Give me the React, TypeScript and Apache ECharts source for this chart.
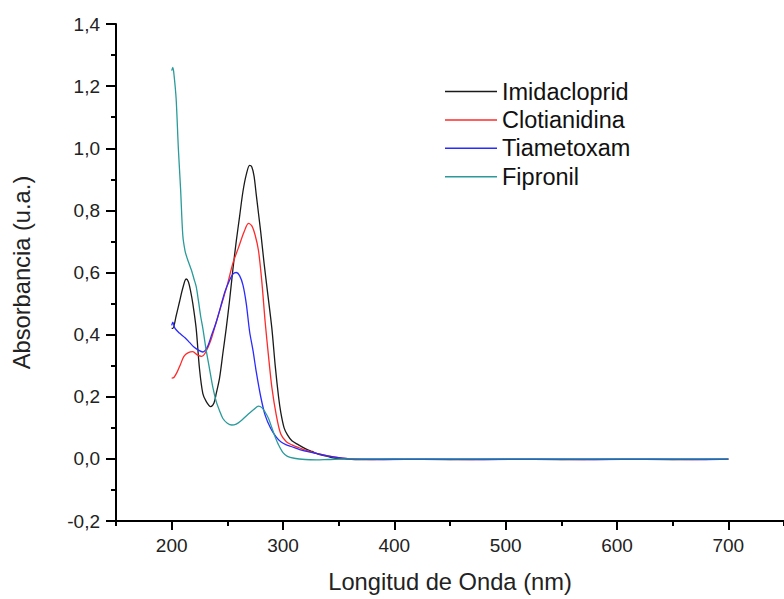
import React, { useEffect, useRef } from "react";
import * as echarts from "echarts";

const seriesNames = ["Imidacloprid", "Clotianidina", "Tiametoxam", "Fipronil"];
const seriesColors = ["#1a1a1a", "#ff2a2a", "#2a2aff", "#2a9a9a"];
const xTickValues = [200, 300, 400, 500, 600, 700];

const imidacloprid: number[][] = [
  [200, 0.42], [201, 0.42], [204, 0.46], [207, 0.505], [210, 0.55], [213, 0.579], [215, 0.57],
  [217, 0.54], [219, 0.5], [222, 0.42], [225, 0.29], [228, 0.21], [231, 0.185], [235, 0.168],
  [238, 0.18], [240, 0.21], [243, 0.26], [246, 0.34], [249, 0.42], [252, 0.51], [255, 0.61],
  [258, 0.7], [261, 0.78], [264, 0.86], [267, 0.915], [270, 0.945], [272, 0.94], [274, 0.91],
  [276, 0.85], [278, 0.79], [280, 0.73], [283, 0.63], [286, 0.54], [290, 0.42], [293, 0.3],
  [296, 0.2], [298, 0.15], [301, 0.1], [304, 0.077], [308, 0.058], [314, 0.045], [320, 0.033],
  [326, 0.024], [333, 0.014], [340, 0.008], [347, 0.002], [355, 0.0], [370, -0.002], [400, -0.001],
  [450, -0.002], [500, -0.001], [550, -0.002], [600, -0.001], [650, -0.002], [700, -0.001],
];

const clotianidina: number[][] = [
  [200, 0.26], [202, 0.262], [205, 0.28], [208, 0.305], [211, 0.33], [215, 0.342], [219, 0.345],
  [223, 0.335], [227, 0.33], [230, 0.34], [235, 0.38], [240, 0.44], [245, 0.5], [250, 0.56],
  [255, 0.63], [260, 0.68], [265, 0.73], [269, 0.758], [272, 0.75], [275, 0.72], [278, 0.67],
  [281, 0.57], [284, 0.44], [287, 0.33], [290, 0.23], [294, 0.14], [298, 0.08], [303, 0.055],
  [308, 0.045], [315, 0.035], [320, 0.028], [330, 0.018], [340, 0.01], [350, 0.004], [360, 0.0],
  [380, -0.002], [420, -0.001], [470, -0.002], [520, -0.001], [570, -0.002], [620, -0.001],
  [670, -0.002], [700, -0.001],
];

const tiametoxam: number[][] = [
  [200, 0.43], [201, 0.44], [203, 0.42], [207, 0.405], [212, 0.39], [216, 0.375], [220, 0.36],
  [224, 0.35], [228, 0.344], [232, 0.36], [236, 0.4], [240, 0.44], [244, 0.49], [248, 0.54],
  [252, 0.575], [255, 0.595], [258, 0.6], [261, 0.59], [264, 0.56], [267, 0.5], [270, 0.41],
  [273, 0.35], [276, 0.28], [280, 0.2], [284, 0.14], [289, 0.098], [294, 0.07], [298, 0.055],
  [303, 0.045], [308, 0.039], [315, 0.03], [320, 0.025], [329, 0.018], [340, 0.01], [350, 0.004],
  [360, 0.0], [390, -0.002], [430, -0.001], [480, -0.002], [530, -0.001], [580, -0.002],
  [630, -0.001], [680, -0.002], [700, -0.001],
];

const fipronil: number[][] = [
  [200, 1.25], [201, 1.26], [202, 1.24], [204, 1.16], [206, 1.0], [208, 0.87], [210, 0.72],
  [212, 0.67], [214, 0.645], [216, 0.625], [218, 0.605], [220, 0.58], [222, 0.555], [224, 0.51],
  [226, 0.46], [228, 0.42], [231, 0.35], [234, 0.29], [237, 0.23], [240, 0.185], [243, 0.155],
  [246, 0.13], [250, 0.115], [254, 0.109], [258, 0.112], [262, 0.122], [266, 0.135], [270, 0.148],
  [274, 0.16], [278, 0.17], [281, 0.165], [284, 0.15], [287, 0.13], [290, 0.1], [293, 0.07],
  [296, 0.045], [300, 0.02], [304, 0.008], [310, 0.002], [320, -0.002], [330, -0.003],
  [340, -0.002], [360, 0.0], [400, 0.0], [500, 0.0], [600, 0.0], [700, 0.0],
];

const allData = [imidacloprid, clotianidina, tiametoxam, fipronil];

const FONT = "'Liberation Sans', Arial, sans-serif";

export default function App() {
  const ref = useRef<HTMLDivElement>(null);
  useEffect(() => {
    if (!ref.current) return;
    const chart = echarts.init(ref.current, undefined, { renderer: "svg" });
    chart.setOption({
      animation: false,
      backgroundColor: "#ffffff",
      textStyle: { fontFamily: FONT },
      grid: { left: 116, top: 24, width: 672, height: 499, containLabel: false },
      legend: {
        orient: "vertical",
        left: 445,
        top: 79,
        padding: 0,
        icon: "rect",
        itemWidth: 52,
        itemHeight: 1.5,
        itemGap: 3.4,
        textStyle: { fontSize: 23.5, color: "#111", fontFamily: FONT, lineHeight: 25 },
        data: seriesNames,
      },
      xAxis: [
        {
          type: "value",
          min: 150,
          max: 750,
          position: "bottom",
          name: "Longitud de Onda (nm)",
          nameLocation: "middle",
          nameGap: 49,
          nameTextStyle: { fontSize: 23.7, color: "#222", fontFamily: FONT },
          axisLine: { show: true, onZero: false, lineStyle: { color: "#000", width: 2 } },
          axisTick: { show: true, length: 9, inside: false, customValues: xTickValues, lineStyle: { color: "#000", width: 2 } },
          axisLabel: { customValues: xTickValues, fontSize: 19, color: "#222", margin: 15, fontFamily: FONT },
          splitLine: { show: false },
        },
        {
          type: "value",
          min: 150,
          max: 750,
          interval: 50,
          position: "bottom",
          axisLine: { show: false, onZero: false },
          axisTick: { show: true, length: 5, inside: false, lineStyle: { color: "#000", width: 2 } },
          axisLabel: { show: false },
          splitLine: { show: false },
        },
      ],
      yAxis: {
        type: "value",
        min: -0.2,
        max: 1.4,
        interval: 0.2,
        name: "Absorbancia (u.a.)",
        nameLocation: "middle",
        nameGap: 82,
        nameRotate: 90,
        nameTextStyle: { fontSize: 23.7, color: "#222", fontFamily: FONT },
        axisLine: { show: true, onZero: false, lineStyle: { color: "#000", width: 2 } },
        axisTick: { show: true, length: 10, inside: false, lineStyle: { color: "#000", width: 2 } },
        minorTick: { show: true, splitNumber: 2, length: 5, lineStyle: { color: "#000", width: 2 } },
        axisLabel: {
          fontSize: 19,
          color: "#222",
          margin: 16,
          fontFamily: FONT,
          formatter: (v: number) => v.toFixed(1).replace(".", ","),
        },
        splitLine: { show: false },
      },
      series: seriesNames.map((name, i) => ({
        name,
        type: "line",
        data: allData[i],
        symbol: "none",
        showSymbol: false,
        smooth: 0.3,
        color: seriesColors[i],
        lineStyle: { color: seriesColors[i], width: 1.3 },
      })),
    });
    return () => chart.dispose();
  }, []);
  return (
    <div
      ref={ref}
      style={{ position: "fixed", left: 0, top: 0, width: 784, height: 599, background: "#fff" }}
    />
  );
}
